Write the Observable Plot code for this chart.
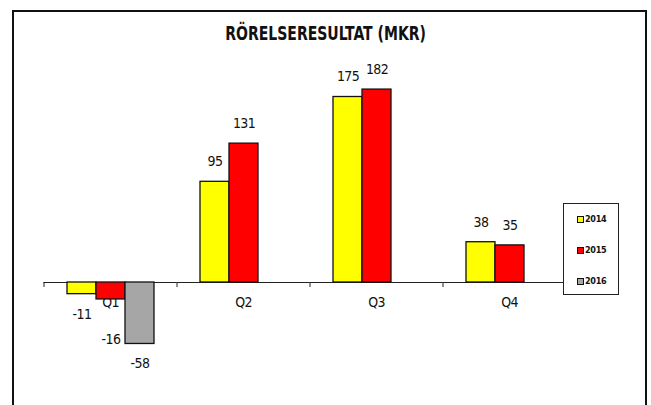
<!DOCTYPE html>
<html>
<head>
<meta charset="utf-8">
<script src="https://cdn.jsdelivr.net/npm/d3@7"></script>
<script src="https://cdn.jsdelivr.net/npm/@observablehq/plot@0.6"></script>
<style>
  html, body { margin: 0; padding: 0; background: #fff; }
  #wrap { position: relative; width: 651px; height: 405px; overflow: hidden; font-family: "DejaVu Sans Condensed", "Liberation Sans Narrow", sans-serif; }
  #border { position: absolute; left: 12px; top: 10px; width: 631px; height: 420px; border: 2px solid #111; border-bottom: none; pointer-events: none; }
  #title { position: absolute; left: 0; width: 651px; top: 22px; text-align: center; font-size: 19px; font-weight: bold; color: #111; transform: scaleX(0.82); transform-origin: 326px 0; white-space: nowrap; }
  #legend { position: absolute; left: 563px; top: 203px; width: 54px; height: 90px; border: 1.5px solid #222; background: #fff; }
  .item { position: absolute; left: 13px; font-size: 9px; font-weight: bold; color: #111; line-height: 10px; display: flex; align-items: center; letter-spacing: -0.3px; }
  .sw { width: 5px; height: 5px; border: 1px solid #111; margin-right: 1px; }
  #chart { position: absolute; left: 0; top: 0; }
</style>
</head>
<body>
<div id="wrap">
  <div id="chart"></div>
  <div id="border"></div>
  <div id="title"></div>
  <div id="legend"></div>
</div>
<script>
const titleText = "RÖRELSERESULTAT (MKR)";
const quarters = ["Q1", "Q2", "Q3", "Q4"];
const years = ["2014", "2015", "2016"];
const v2014 = [-11, 95, 175, 38];
const v2015 = [-16, 131, 182, 35];
const v2016 = [-58, null, null, null];
const colors = ["#FFFF00", "#FF0000", "#A6A6A6"];

const series = [v2014, v2015, v2016];
const data = [];
quarters.forEach((q, i) => {
  years.forEach((yr, j) => {
    const v = series[j][i];
    if (v != null) data.push({q, year: yr, value: v});
  });
});

const font = '"DejaVu Sans Condensed", "Liberation Sans Narrow", sans-serif';

const chart = Plot.plot({
  width: 651,
  height: 405,
  marginLeft: 44,
  marginRight: 75,
  marginTop: 70,
  marginBottom: 123,
  style: {fontFamily: font, fontSize: "14px", color: "#111", background: "transparent", letterSpacing: "-0.6px"},
  fx: {domain: quarters, paddingInner: 0.338, paddingOuter: 0.169},
  x: {domain: years, padding: 0, axis: null},
  y: {domain: [0, 200], axis: null},
  color: {domain: years, range: colors},
  marks: [
    Plot.axisFx({anchor: "bottom", tickSize: 0, tickPadding: 15, fontSize: 14, label: null}),
    Plot.axisFx({anchor: "bottom", tickSize: 5, text: null, dx: -66.5, label: null, stroke: "#222"}),
    Plot.ruleY([0], {insetLeft: -22.5, insetRight: -22.5, stroke: "#222", strokeWidth: 1.2}),
    Plot.barY(data, {fx: "q", x: "year", y: "value", fill: "year", stroke: "#111", strokeWidth: 1.3}),
    Plot.text(data, {filter: d => d.value >= 0, fx: "q", x: "year", y: "value", text: d => String(d.value), dy: -20, fontSize: 14}),
    Plot.text(data, {filter: d => d.value < 0 && !(d.q === "Q1" && d.year === "2015"), fx: "q", x: "year", y: "value", text: d => String(d.value), dy: 20, fontSize: 14}),
    Plot.text(data, {filter: d => d.q === "Q1" && d.year === "2015", fx: "q", x: "year", y: "value", text: d => String(d.value), dy: 40, fontSize: 14})
  ]
});
document.getElementById("chart").appendChild(chart);
document.getElementById("title").textContent = titleText;

const legend = document.getElementById("legend");
years.forEach((yr, j) => {
  const it = document.createElement("div");
  it.className = "item";
  it.style.top = (10 + j * 31) + "px";
  const sw = document.createElement("span");
  sw.className = "sw";
  sw.style.background = colors[j];
  const t = document.createElement("span");
  t.textContent = yr;
  it.appendChild(sw);
  it.appendChild(t);
  legend.appendChild(it);
});
</script>
</body>
</html>
